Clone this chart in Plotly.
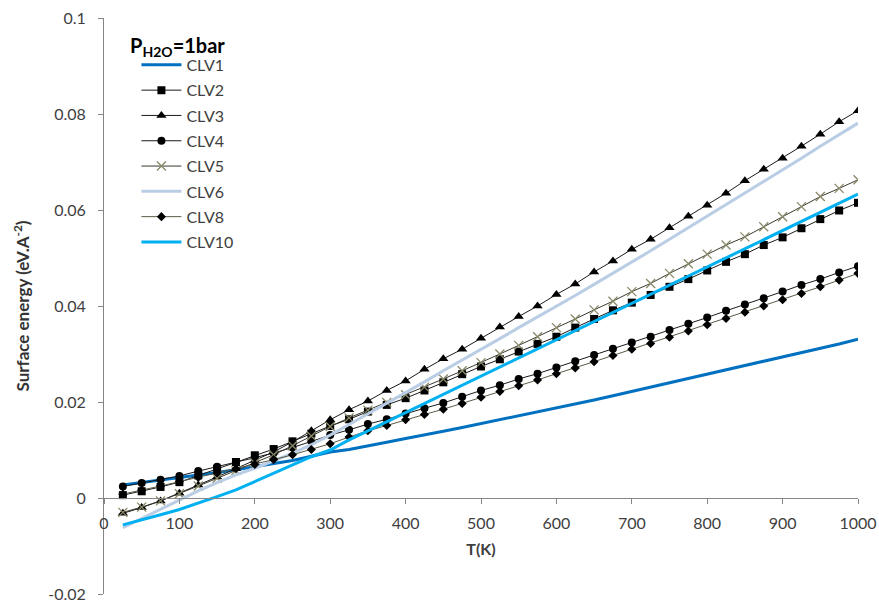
import plotly.graph_objects as go

T = [25, 50, 75, 100, 125, 150, 175, 200, 225, 250, 275, 300, 325, 350, 375, 400,
     425, 450, 475, 500, 525, 550, 575, 600, 625, 650, 675, 700, 725, 750, 775, 800,
     825, 850, 875, 900, 925, 950, 975, 1000]

CLV1 = [0.0027, 0.0032, 0.0037, 0.0043, 0.0048, 0.0053, 0.0059, 0.0065, 0.0071, 0.0078,
        0.0087, 0.0096, 0.0101, 0.0108, 0.0116, 0.0124, 0.0131, 0.0139, 0.0147, 0.0155,
        0.0163, 0.0171, 0.0179, 0.0188, 0.0196, 0.0204, 0.0213, 0.0222, 0.0231, 0.0240,
        0.0248, 0.0257, 0.0266, 0.0275, 0.0285, 0.0294, 0.0303, 0.0312, 0.0321, 0.0331]

CLV2 = [0.0006, 0.0014, 0.0023, 0.0033, 0.0047, 0.0061, 0.0075, 0.0089, 0.0102, 0.0118,
        0.0134, 0.0150, 0.0164, 0.0180, 0.0194, 0.0208, 0.0224, 0.0241, 0.0258, 0.0274,
        0.0289, 0.0305, 0.0321, 0.0336, 0.0355, 0.0373, 0.0391, 0.0407, 0.0423, 0.0440,
        0.0456, 0.0474, 0.0492, 0.0508, 0.0527, 0.0543, 0.0562, 0.0581, 0.0599, 0.0615]

CLV3 = [-0.0032, -0.0020, -0.0006, 0.0010, 0.0027, 0.0044, 0.0061, 0.0078, 0.0096, 0.0117,
        0.0140, 0.0163, 0.0184, 0.0202, 0.0224, 0.0244, 0.0268, 0.0290, 0.0310, 0.0333,
        0.0356, 0.0378, 0.0400, 0.0424, 0.0446, 0.0471, 0.0494, 0.0518, 0.0539, 0.0563,
        0.0587, 0.0610, 0.0635, 0.0661, 0.0685, 0.0708, 0.0733, 0.0758, 0.0784, 0.0807]

CLV4 = [0.0024, 0.0031, 0.0038, 0.0046, 0.0056, 0.0065, 0.0075, 0.0084, 0.0094, 0.0105,
        0.0118, 0.0131, 0.0142, 0.0154, 0.0164, 0.0176, 0.0187, 0.0198, 0.0211, 0.0224,
        0.0235, 0.0248, 0.0259, 0.0272, 0.0285, 0.0298, 0.0311, 0.0324, 0.0336, 0.0350,
        0.0363, 0.0376, 0.0390, 0.0403, 0.0416, 0.0430, 0.0444, 0.0456, 0.0470, 0.0483]

CLV5 = [-0.0030, -0.0019, -0.0006, 0.0009, 0.0025, 0.0041, 0.0057, 0.0073, 0.0090, 0.0109,
        0.0129, 0.0149, 0.0167, 0.0183, 0.0199, 0.0215, 0.0231, 0.0248, 0.0265, 0.0282,
        0.0300, 0.0318, 0.0336, 0.0355, 0.0373, 0.0392, 0.0410, 0.0430, 0.0447, 0.0468,
        0.0488, 0.0508, 0.0527, 0.0544, 0.0565, 0.0586, 0.0607, 0.0628, 0.0645, 0.0663]

CLV6 = [-0.0062, -0.0043, -0.0024, -0.0005, 0.0015, 0.0032, 0.0048, 0.0062, 0.0077, 0.0093,
        0.0111, 0.0131, 0.0153, 0.0175, 0.0197, 0.0220, 0.0242, 0.0265, 0.0287, 0.0310,
        0.0332, 0.0355, 0.0377, 0.0400, 0.0422, 0.0445, 0.0468, 0.0491, 0.0515, 0.0539,
        0.0563, 0.0587, 0.0611, 0.0635, 0.0660, 0.0684, 0.0708, 0.0733, 0.0757, 0.0781]

CLV8 = [0.0008, 0.0016, 0.0025, 0.0034, 0.0043, 0.0052, 0.0061, 0.0070, 0.0080, 0.0090,
        0.0101, 0.0113, 0.0127, 0.0140, 0.0151, 0.0163, 0.0174, 0.0185, 0.0197, 0.0210,
        0.0222, 0.0234, 0.0246, 0.0259, 0.0271, 0.0284, 0.0297, 0.0310, 0.0322, 0.0335,
        0.0348, 0.0361, 0.0374, 0.0387, 0.0400, 0.0413, 0.0426, 0.0440, 0.0454, 0.0468]

CLV10 = [-0.0056, -0.0046, -0.0035, -0.0024, -0.0011, 0.0003, 0.0017, 0.0034, 0.0051, 0.0069,
         0.0086, 0.0100, 0.0121, 0.0140, 0.0159, 0.0178, 0.0197, 0.0216, 0.0235, 0.0254,
         0.0273, 0.0292, 0.0311, 0.0330, 0.0349, 0.0367, 0.0386, 0.0405, 0.0424, 0.0443,
         0.0462, 0.0481, 0.0500, 0.0519, 0.0538, 0.0557, 0.0576, 0.0595, 0.0614, 0.0633]

Y_TICKS = [-0.02, 0, 0.02, 0.04, 0.06, 0.08, 0.1]
Y_TICKTEXT = ["-0.02", "0", "0.02", "0.04", "0.06", "0.08", "0.1"]
X_TICKS = [0, 100, 200, 300, 400, 500, 600, 700, 800, 900, 1000]

FONT = "Lato"

series = [
    ("CLV1", CLV1, dict(mode="lines", line=dict(color="#0070C0", width=3))),
    ("CLV2", CLV2, dict(mode="lines+markers", line=dict(color="#1a1a1a", width=1),
                        marker=dict(symbol="square", size=8, color="black"))),
    ("CLV3", CLV3, dict(mode="lines+markers", line=dict(color="#1a1a1a", width=1),
                        marker=dict(symbol="triangle-up", size=9, color="black"))),
    ("CLV4", CLV4, dict(mode="lines+markers", line=dict(color="#1a1a1a", width=1),
                        marker=dict(symbol="circle", size=8, color="black"))),
    ("CLV5", CLV5, dict(mode="lines+markers", line=dict(color="#3a3a30", width=1),
                        marker=dict(symbol="x-thin", size=9,
                                    line=dict(color="#8a8868", width=1.3)))),
    ("CLV6", CLV6, dict(mode="lines", line=dict(color="#B9CDE5", width=3))),
    ("CLV8", CLV8, dict(mode="lines+markers", line=dict(color="#5a5a45", width=1),
                        marker=dict(symbol="diamond", size=7, color="black"))),
    ("CLV10", CLV10, dict(mode="lines", line=dict(color="#00B0F0", width=3))),
]

fig = go.Figure()
for name, vals, style in series:
    fig.add_trace(go.Scatter(x=T, y=vals, name=name, legendgroup=name, **style))

fig.add_annotation(
    text="<b>P<sub>H2O</sub>=1bar</b>", xref="paper", yref="paper",
    x=0.0318, y=0.951, xanchor="left", yanchor="middle", showarrow=False,
    font=dict(family=FONT, size=20, color="black"),
)

fig.update_layout(
    width=879, height=604,
    margin=dict(l=104, r=21, t=18, b=10, autoexpand=False),
    paper_bgcolor="white", plot_bgcolor="white",
    font=dict(family=FONT, size=16, color="#404040"),
    legend=dict(
        x=0.043, y=0.948, xanchor="left", yanchor="top",
        font=dict(family=FONT, size=16, color="#404040"),
        itemwidth=40, tracegroupgap=1.5,
        bgcolor="rgba(0,0,0,0)",
    ),
    xaxis=dict(
        range=[0, 1000], tickvals=X_TICKS,
        anchor="free", position=1/6, automargin=False,
        ticklabeloverflow="allow", ticklabelstandoff=6,
        showline=True, linecolor="#868686", linewidth=1,
        ticks="outside", ticklen=5, tickcolor="#868686",
        tickfont=dict(family=FONT, size=16, color="#404040"),
        showgrid=False, zeroline=False,
        title=dict(text="<b>T(K)</b>", font=dict(family=FONT, size=16, color="#404040"), standoff=12),
    ),
    yaxis=dict(
        range=[-0.02, 0.1], tickvals=Y_TICKS, ticktext=Y_TICKTEXT,
        automargin=False, ticklabelstandoff=9,
        showline=True, linecolor="#868686", linewidth=1,
        ticks="outside", ticklen=5, tickcolor="#868686",
        tickfont=dict(family=FONT, size=16, color="#404040"),
        showgrid=False, zeroline=False,
        title=dict(text="<b>Surface energy (eV.A<sup>-2</sup>)</b>",
                   font=dict(family=FONT, size=17, color="#333333"), standoff=14),
    ),
)

fig.write_html("out.html", config={"displayModeBar": False},
               post_script="document.body.style.margin='0';")
